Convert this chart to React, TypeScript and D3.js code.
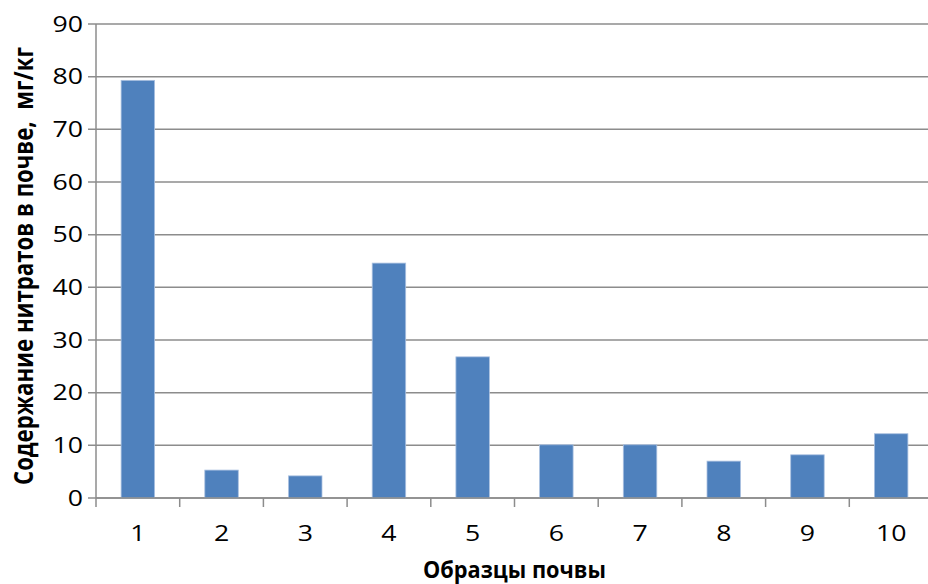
import React from "react";
import * as d3 from "d3";

const categories = ["1", "2", "3", "4", "5", "6", "7", "8", "9", "10"];
const values = [79.3, 5.3, 4.2, 44.6, 26.8, 10.1, 10.1, 7.0, 8.2, 12.2];
const yTicks = [0, 10, 20, 30, 40, 50, 60, 70, 80, 90];
const yTitle = "Содержание нитратов в почве,  мг/кг";
const xTitle = "Образцы почвы";

const W = 928;
const H = 584;
const left = 96;
const right = 933;
const top = 24;
const bottom = 498;
const SX = 1.27;
const font = "'Open Sans', 'DejaVu Sans', sans-serif";
const gridColor = "#8c8c8c";

export default function App() {
  const x = d3.scaleBand<string>().domain(categories).range([left, right]).paddingInner(0.6).paddingOuter(0.3);
  const y = d3.scaleLinear().domain([0, 90]).range([bottom, top]);
  const step = x.step();
  const boundaries = d3.range(categories.length + 1).map((i) => left + i * step);

  return (
    <svg width={W} height={H} style={{ position: "absolute", left: 0, top: 0, background: "#fff" }}>
      <rect x={0} y={0} width={W} height={H} fill="#fff" />
      {yTicks.map((t) => (
        <g key={"g" + t}>
          <line x1={left - 8} x2={W} y1={y(t)} y2={y(t)} stroke={gridColor} strokeWidth={1.5} />
          <text
            transform={`translate(${left - 13},${y(t) + 7.5}) scale(${SX},1)`}
            textAnchor="end"
            fontFamily={font}
            fontSize={21}
            fill="#000"
          >
            {t}
          </text>
        </g>
      ))}
      <line x1={left} x2={left} y1={top} y2={bottom} stroke={gridColor} strokeWidth={1.5} />
      {boundaries.map((b, i) => (
        <line key={"b" + i} x1={b} x2={b} y1={bottom} y2={bottom + 9} stroke={gridColor} strokeWidth={1.5} />
      ))}
      {categories.map((c, i) => (
        <rect
          key={"r" + c}
          x={x(c)!}
          y={y(values[i])}
          width={x.bandwidth()}
          height={bottom - y(values[i])}
          fill="#4f81bd"
          stroke="#a9c0e0"
          strokeWidth={0.8}
        />
      ))}
      <line x1={left} x2={W} y1={bottom} y2={bottom} stroke={gridColor} strokeWidth={1.5} />
      {categories.map((c) => (
        <text
          key={"t" + c}
          transform={`translate(${x(c)! + x.bandwidth() / 2},${541}) scale(${SX},1)`}
          textAnchor="middle"
          fontFamily={font}
          fontSize={21}
          fill="#000"
        >
          {c}
        </text>
      ))}
      <text
        x={514.5}
        y={578}
        textAnchor="middle"
        fontFamily={font}
        fontWeight="bold"
        fontSize={22.5}
        textLength={183}
        lengthAdjust="spacingAndGlyphs"
        fill="#000"
      >
        {xTitle}
      </text>
      <text
        transform={`translate(33,266) rotate(-90) scale(1,${SX})`}
        textAnchor="middle"
        fontFamily={font}
        fontWeight="bold"
        fontSize={21.5}
        textLength={438}
        lengthAdjust="spacingAndGlyphs"
        style={{ whiteSpace: "pre" }}
        fill="#000"
      >
        {yTitle}
      </text>
    </svg>
  );
}
